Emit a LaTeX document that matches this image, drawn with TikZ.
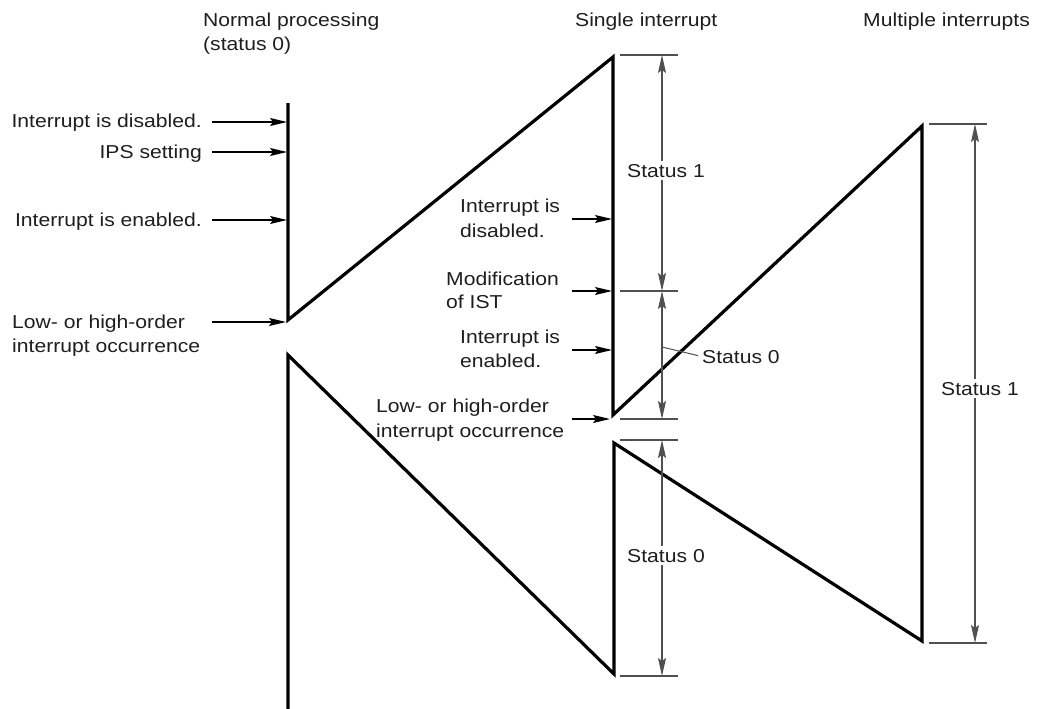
\documentclass[tikz,border=0pt]{standalone}
\usepackage{fontspec}
\setmainfont{Liberation Sans}[FakeStretch=1.13]
\usetikzlibrary{arrows.meta}
\definecolor{txt}{HTML}{1E1E1E}
\definecolor{dimc}{HTML}{505050}
\begin{document}
\begin{tikzpicture}[x=1pt,y=-1pt,
  font=\fontsize{18.7}{24}\selectfont,
  every node/.style={text=txt, inner sep=0pt},
  lbl/.style={anchor=base west},
  rlbl/.style={anchor=base east},
  thickline/.style={line width=3.2pt, line join=miter, draw=black},
  ptr/.style={line width=1.3pt, draw=black, -{Stealth[length=17pt,width=8pt,inset=3pt]}},
  dimarr/.style={line width=1.2pt, draw=dimc, {Stealth[length=18pt,width=8pt,inset=3pt]}-{Stealth[length=18pt,width=8pt,inset=3pt]}},
  tickline/.style={line width=1.2pt, draw=dimc},
  stat/.style={anchor=base, fill=white, inner xsep=1pt, inner ysep=3pt}]
\useasboundingbox (0,0) rectangle (1039,709);

% headings
\node[lbl] (h1a) at (203,27) {Normal processing};
\node[lbl] (h1b) at (203,51) {(status 0)};
\node[lbl] (h2) at (575,27) {Single interrupt};
\node[lbl] (h3) at (863,27) {Multiple interrupts};

% main thick path
\coordinate (p0) at (288,103);
\coordinate (p1) at (288,320);
\coordinate (p2) at (613,57);
\coordinate (p3) at (613,415);
\coordinate (p4) at (922,126);
\coordinate (p5) at (922,641);
\coordinate (p6) at (614,443);
\coordinate (p7) at (614,674);
\coordinate (p8) at (288,355);
\coordinate (p9) at (288,712);
\draw[thickline] (p0) -- (p1) -- (p2) -- (p3) -- (p4) -- (p5) -- (p6) -- (p7) -- (p8) -- (p9);

% left labels and arrows
\node[rlbl] (l1) at (202,128) {Interrupt is disabled.};
\node[rlbl] (l2) at (202,158) {IPS setting};
\node[rlbl] (l3) at (202,226) {Interrupt is enabled.};
\node[lbl] (l4a) at (12,328) {Low- or high-order};
\node[lbl] (l4b) at (12,352) {interrupt occurrence};
\coordinate (a1s) at (212,122); \coordinate (a1e) at (287,122);
\coordinate (a2s) at (212,152); \coordinate (a2e) at (287,152);
\coordinate (a3s) at (212,220); \coordinate (a3e) at (287,220);
\coordinate (a4s) at (212,322); \coordinate (a4e) at (286,322);
\draw[ptr] (a1s) -- (a1e);
\draw[ptr] (a2s) -- (a2e);
\draw[ptr] (a3s) -- (a3e);
\draw[ptr] (a4s) -- (a4e);

% middle labels and arrows
\node[lbl] (m1a) at (460,212) {Interrupt is};
\node[lbl] (m1b) at (460,237) {disabled.};
\node[lbl] (m2a) at (446,285) {Modification};
\node[lbl] (m2b) at (446,308) {of IST};
\node[lbl] (m3a) at (460,343) {Interrupt is};
\node[lbl] (m3b) at (460,367) {enabled.};
\node[lbl] (m4a) at (376,412) {Low- or high-order};
\node[lbl] (m4b) at (376,437) {interrupt occurrence};
\coordinate (b1s) at (572,219); \coordinate (b1e) at (612,219);
\coordinate (b2s) at (572,291); \coordinate (b2e) at (612,291);
\coordinate (b3s) at (572,350); \coordinate (b3e) at (612,350);
\coordinate (b4s) at (572,419); \coordinate (b4e) at (610,419);
\draw[ptr] (b1s) -- (b1e);
\draw[ptr] (b2s) -- (b2e);
\draw[ptr] (b3s) -- (b3e);
\draw[ptr] (b4s) -- (b4e);

% middle dimension lines
\coordinate (t1a) at (620,55);  \coordinate (t1b) at (678,55);
\coordinate (t2a) at (620,291); \coordinate (t2b) at (678,291);
\coordinate (t3a) at (620,419); \coordinate (t3b) at (678,419);
\coordinate (t4a) at (620,440); \coordinate (t4b) at (678,440);
\coordinate (t5a) at (620,676); \coordinate (t5b) at (678,676);
\draw[tickline] (t1a) -- (t1b);
\draw[tickline] (t2a) -- (t2b);
\draw[tickline] (t3a) -- (t3b);
\draw[tickline] (t4a) -- (t4b);
\draw[tickline] (t5a) -- (t5b);
\coordinate (d1) at (662,55);
\coordinate (d2) at (662,291);
\coordinate (d3) at (662,419);
\coordinate (d4) at (662,440);
\coordinate (d5) at (662,676);
\draw[dimarr] (d1) -- (d2);
\draw[dimarr] (d2) -- (d3);
\draw[dimarr] (d4) -- (d5);
\node[stat] (s1) at (666,177) {Status 1};
\node[stat] (s3) at (666,562) {Status 0};
\coordinate (ld) at (662,347);
\node[lbl] (s2) at (702,363) {Status 0};
\draw[line width=1pt, draw=dimc, shorten >=4pt] (ld) -- (s2.west);

% right dimension line
\coordinate (r1a) at (929,124); \coordinate (r1b) at (987,124);
\coordinate (r2a) at (929,643); \coordinate (r2b) at (987,643);
\draw[tickline] (r1a) -- (r1b);
\draw[tickline] (r2a) -- (r2b);
\coordinate (e1) at (975,124);
\coordinate (e2) at (975,643);
\draw[dimarr] (e1) -- (e2);
\node[stat] (s4) at (980,395) {Status 1};
\end{tikzpicture}
\end{document}
